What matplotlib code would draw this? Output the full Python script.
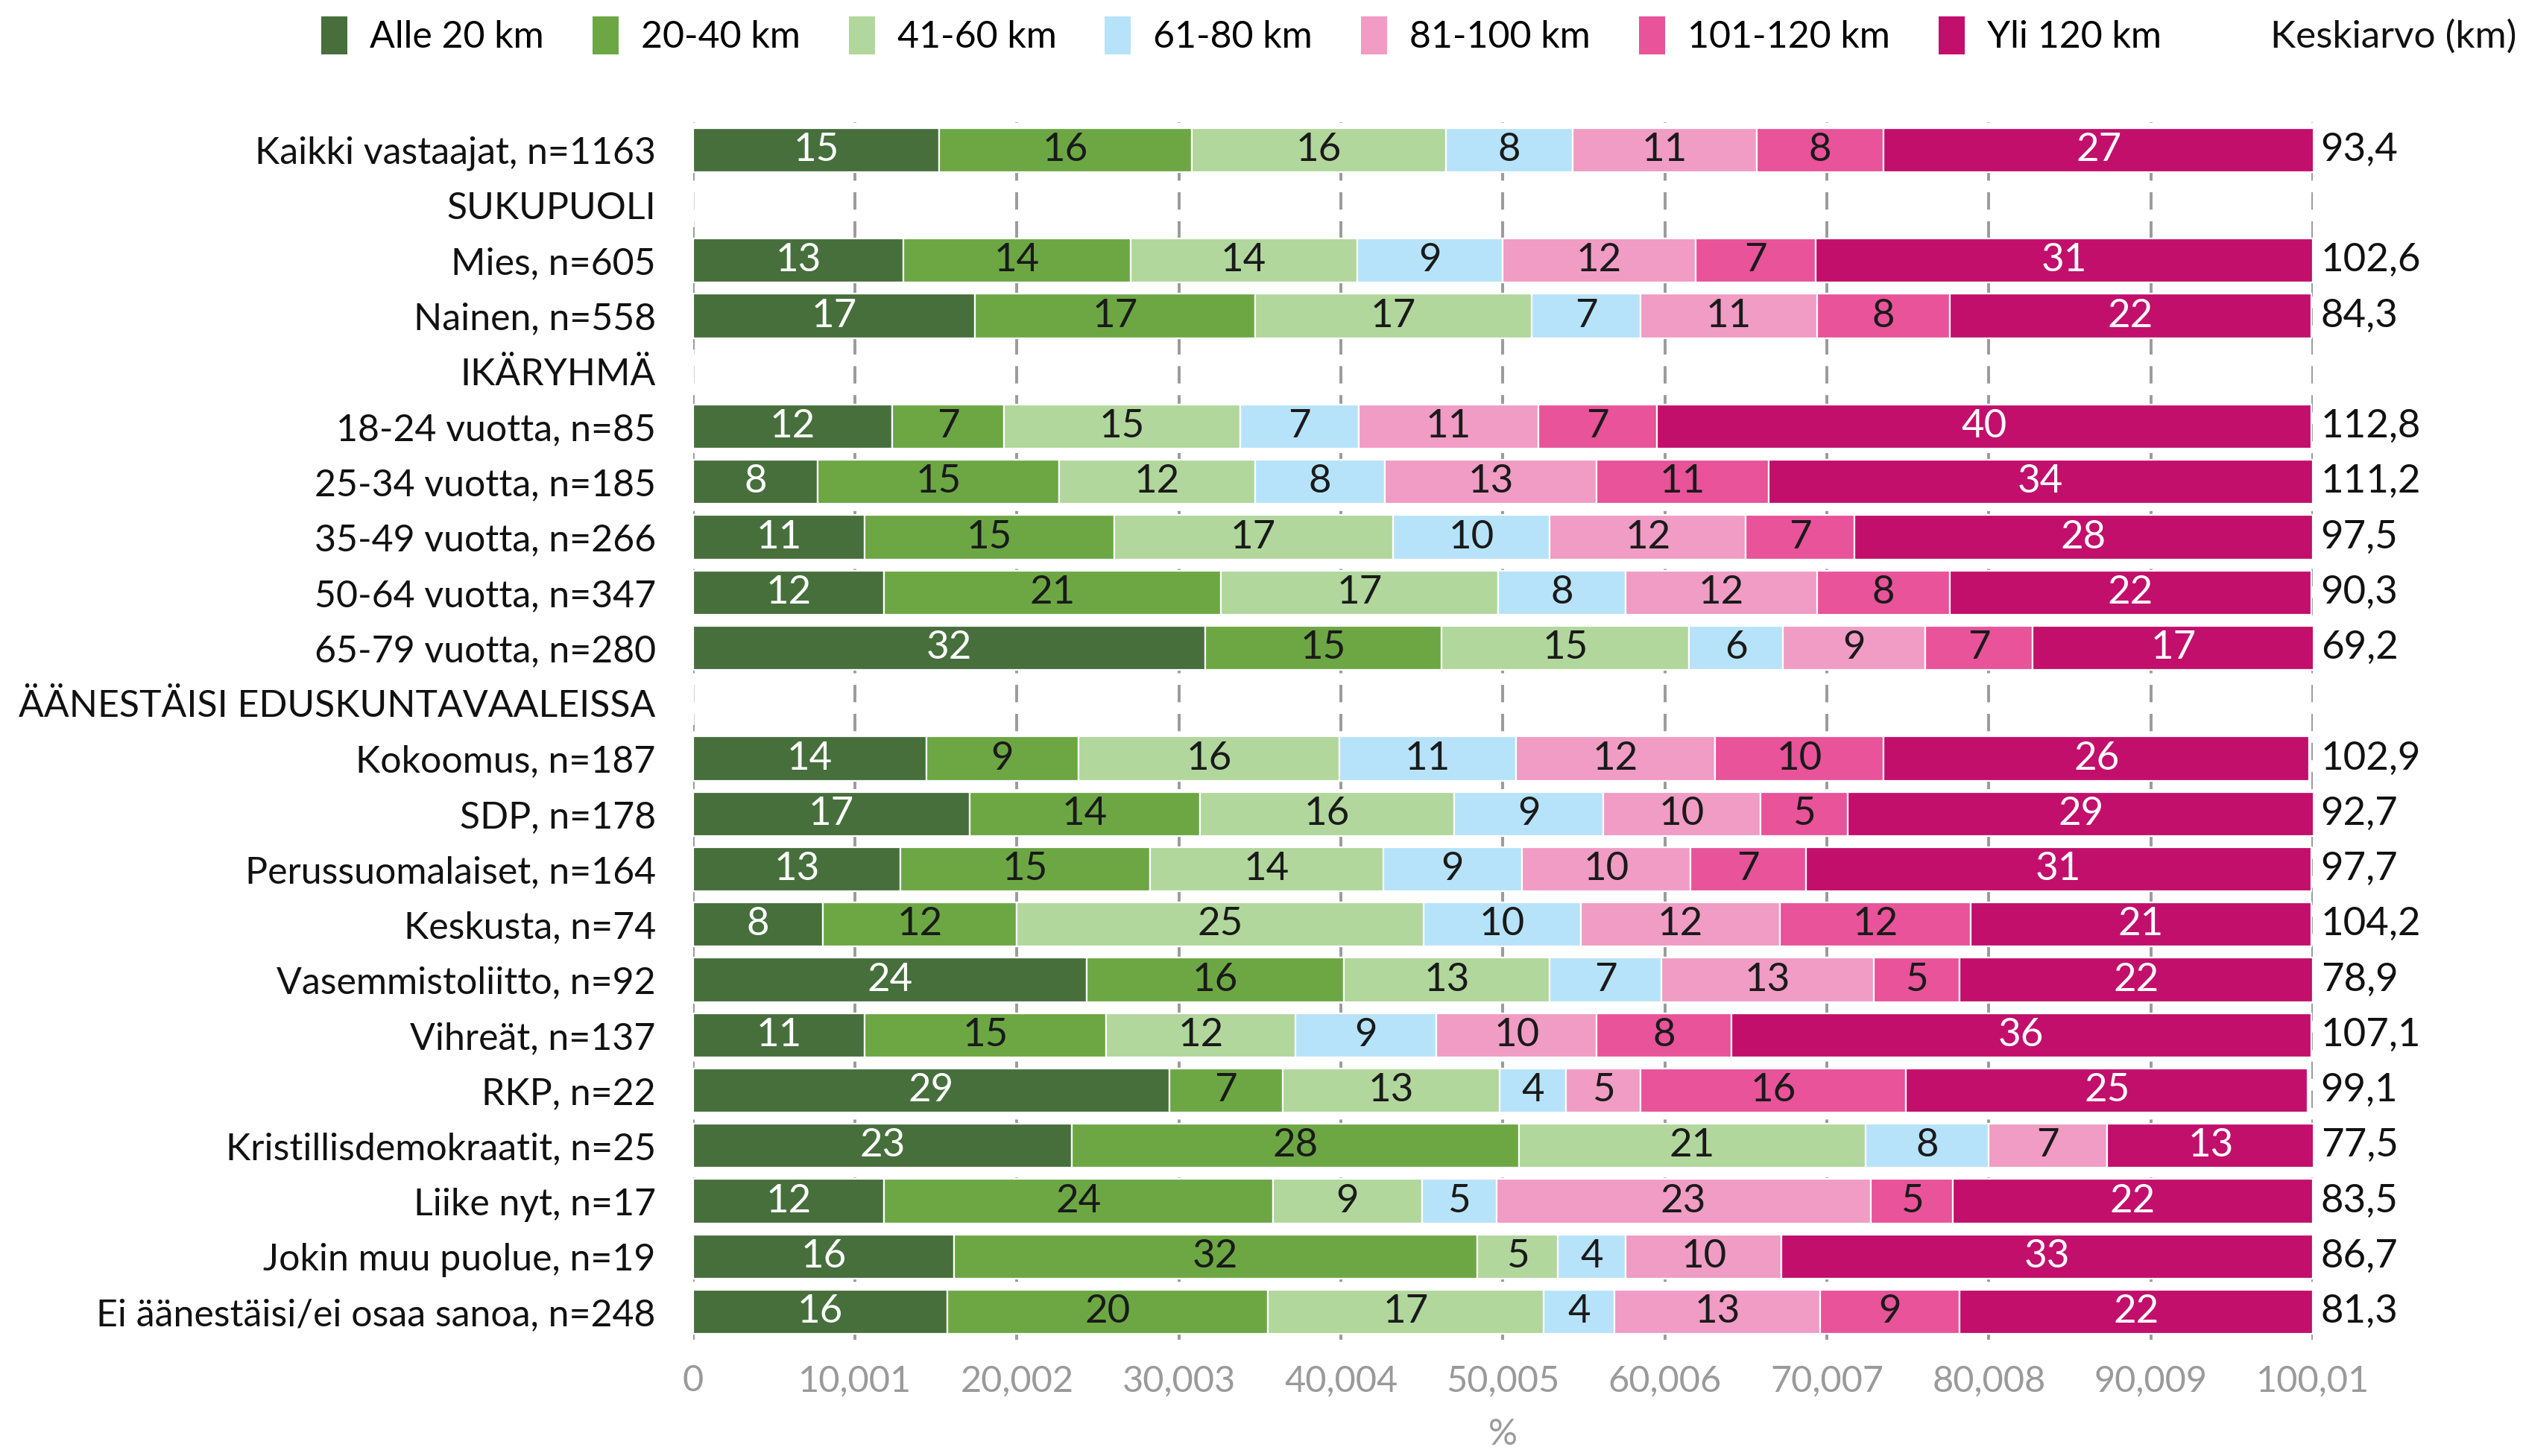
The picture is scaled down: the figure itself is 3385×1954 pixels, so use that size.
import numpy as np
import matplotlib
matplotlib.use("Agg")
from matplotlib import pyplot as plt
from matplotlib.patches import Patch

plt.rcParams['font.family'] = ['Lato', 'DejaVu Sans']

# Data
rows = ["Kaikki vastaajat, n=1163", "SUKUPUOLI", "Mies, n=605", "Nainen, n=558",
        "IKÄRYHMÄ", "18-24 vuotta, n=85", "25-34 vuotta, n=185", "35-49 vuotta, n=266",
        "50-64 vuotta, n=347", "65-79 vuotta, n=280", "ÄÄNESTÄISI EDUSKUNTAVAALEISSA",
        "Kokoomus, n=187", "SDP, n=178", "Perussuomalaiset, n=164", "Keskusta, n=74",
        "Vasemmistoliitto, n=92", "Vihreät, n=137", "RKP, n=22", "Kristillisdemokraatit, n=25",
        "Liike nyt, n=17", "Jokin muu puolue, n=19", "Ei äänestäisi/ei osaa sanoa, n=248"]
categories = ["Alle 20 km", "20-40 km", "41-60 km", "61-80 km", "81-100 km", "101-120 km", "Yli 120 km"]

alle20 = [15.2, 0, 13.0, 17.4, 0, 12.3, 7.7, 10.6, 11.8, 31.6, 0,
          14.4, 17.1, 12.8, 8.0, 24.3, 10.6, 29.4, 23.4, 11.8, 16.1, 15.7]
km20_40 = [15.6, 0, 14.0, 17.3, 0, 6.9, 14.9, 15.4, 20.8, 14.6, 0,
           9.4, 14.2, 15.4, 12.0, 15.9, 14.9, 7.0, 27.6, 24.0, 32.3, 19.8]
km41_60 = [15.7, 0, 14.0, 17.1, 0, 14.6, 12.1, 17.2, 17.1, 15.3, 0,
           16.1, 15.7, 14.4, 25.1, 12.7, 11.7, 13.4, 21.4, 9.2, 5.0, 17.0]
km61_80 = [7.8, 0, 9.0, 6.7, 0, 7.3, 8.0, 9.7, 7.9, 5.8, 0,
           10.9, 9.2, 8.6, 9.7, 6.9, 8.7, 4.1, 7.6, 4.6, 4.2, 4.4]
km81_100 = [11.4, 0, 11.9, 10.9, 0, 11.1, 13.1, 12.1, 11.8, 8.8, 0,
            12.3, 9.7, 10.4, 12.3, 13.1, 9.9, 4.6, 7.3, 23.1, 9.6, 12.7]
km101_120 = [7.8, 0, 7.4, 8.2, 0, 7.3, 10.6, 6.7, 8.2, 6.6, 0,
             10.4, 5.4, 7.1, 11.8, 5.3, 8.3, 16.4, 0, 5.1, 0, 8.6]
yli120 = [26.6, 0, 30.7, 22.3, 0, 40.4, 33.6, 28.3, 22.3, 17.4, 0,
          26.3, 28.8, 31.2, 21.0, 21.8, 35.8, 24.8, 12.8, 22.2, 32.8, 21.8]
means = [93.4, None, 102.6, 84.3, None, 112.8, 111.2, 97.5, 90.3, 69.2, None,
         102.9, 92.7, 97.7, 104.2, 78.9, 107.1, 99.1, 77.5, 83.5, 86.7, 81.3]

xticks = [0, 10.001, 20.002, 30.003, 40.004, 50.005, 60.006, 70.007, 80.008, 90.009, 100.01]
xticklabels = ["0", "10,001", "20,002", "30,003", "40,004", "50,005", "60,006",
               "70,007", "80,008", "90,009", "100,01"]

series = [alle20, km20_40, km41_60, km61_80, km81_100, km101_120, yli120]
colors = ["#466F3C", "#6CA744", "#B1D79C", "#B6E3F9", "#F09CC4", "#E8539A", "#C20F6C"]
text_colors = ["white", "#1a1a1a", "#1a1a1a", "#1a1a1a", "#1a1a1a", "#1a1a1a", "white"]

fig = plt.figure(figsize=(16.925, 9.77), dpi=200)
ax = fig.add_axes([0.2747, 0.080, 0.642, 0.836])

y = np.arange(len(rows))
left = np.zeros(len(rows))
for vals, col, tcol in zip(series, colors, text_colors):
    vals = np.array(vals, dtype=float)
    ax.barh(y, vals, left=left, height=0.8, color=col, edgecolor="white",
            linewidth=0.8, zorder=2)
    for yi, (l, v) in enumerate(zip(left, vals)):
        if v > 0:
            ax.text(l + v / 2, yi, f"{v:.0f}", ha="center", va="center",
                    fontsize=19, color=tcol, zorder=3)
    left += vals

for yi, m in enumerate(means):
    if m is not None:
        ax.text(100.5, yi, f"{m:.1f}".replace(".", ","), ha="left", va="center",
                fontsize=19, color="#111111")

ax.set_xlim(0, 100.01)
ax.set_ylim(len(rows) - 0.5, -0.5)
ax.set_xticks(xticks)
ax.set_xticklabels(xticklabels, fontsize=17.5, color="#9a9a9a")
ax.set_yticks(y)
ax.set_yticklabels(rows, fontsize=18, color="#111111")
ax.tick_params(axis="both", length=0)
ax.tick_params(axis="x", pad=12)
ax.tick_params(axis="y", pad=18)
for s in ax.spines.values():
    s.set_visible(False)
for xt in xticks:
    ax.axvline(xt, color="#9a9a9a", linestyle=(0, (6, 4)), linewidth=1.4, zorder=1)
ax.set_xlabel("%", fontsize=17.5, color="#9a9a9a", labelpad=10)

handles = [Patch(facecolor=c, edgecolor="none") for c in colors]
fig.legend(handles, categories, loc="upper center", bbox_to_anchor=(0.492, 1.012),
           ncol=7, frameon=False, fontsize=18, handlelength=0.7, handleheight=1.2,
           handletextpad=0.6, columnspacing=1.3)
fig.text(0.9975, 0.975, "Keskiarvo (km)", ha="right", va="center", fontsize=18.5,
         color="#111111")

fig.savefig("out.png", dpi=200)
